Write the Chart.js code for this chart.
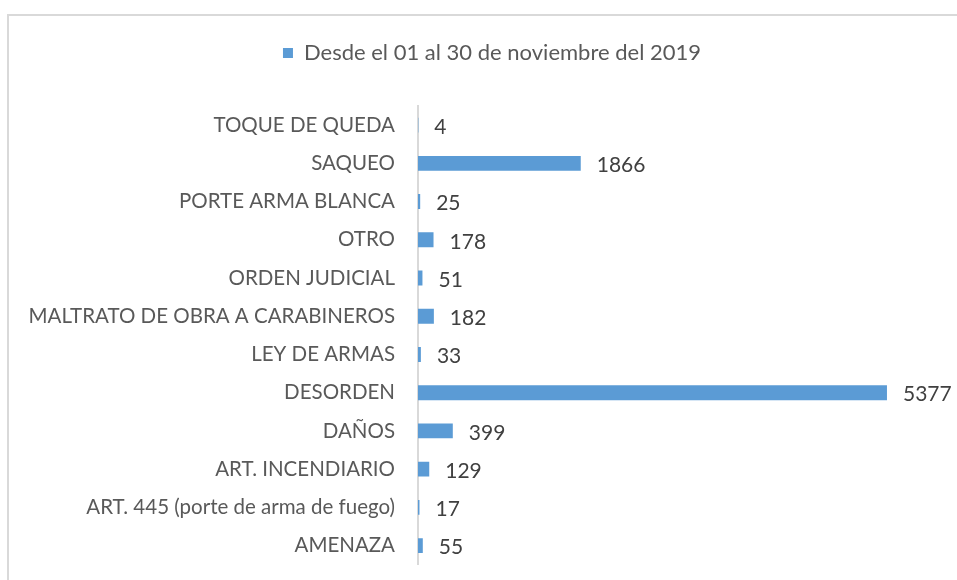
<!DOCTYPE html>
<html>
<head>
<meta charset="utf-8">
<script src="https://cdn.jsdelivr.net/npm/chart.js@4"></script>
<style>
  html, body { margin: 0; padding: 0; background: #fff; }
  #wrap { position: relative; width: 957px; height: 580px; overflow: hidden; }
  #frame { position: absolute; left: 7px; top: 14px; width: 960px; height: 600px;
           border-top: 2px solid #d9d9d9; border-left: 2px solid #d9d9d9; }
  #myChart { position: absolute; left: 0; top: 0; }
</style>
</head>
<body>
<div id="wrap">
  <div id="frame"></div>
  <canvas id="myChart" width="957" height="580"></canvas>
</div>
<script>
const categories = [
    'TOQUE DE QUEDA',
    'SAQUEO',
    'PORTE ARMA BLANCA',
    'OTRO',
    'ORDEN JUDICIAL',
    'MALTRATO DE OBRA A CARABINEROS',
    'LEY DE ARMAS',
    'DESORDEN',
    'DAÑOS',
    'ART. INCENDIARIO',
    'ART. 445 (porte de arma de fuego)',
    'AMENAZA'
];
const seriesName = 'Desde el 01 al 30 de noviembre del 2019';
const values = [4, 1866, 25, 178, 51, 182, 33, 5377, 399, 129, 17, 55];

const textColor = '#595959';
const fontFamily = 'Lato, "Open Sans", sans-serif';

// values written at the end of each bar
const endLabels = {
    id: 'endLabels',
    afterDatasetsDraw(chart) {
        const ctx = chart.ctx;
        const meta = chart.getDatasetMeta(0);
        ctx.save();
        ctx.font = '21px ' + fontFamily;
        ctx.fillStyle = '#404040';
        ctx.textAlign = 'left';
        ctx.textBaseline = 'middle';
        meta.data.forEach((bar, i) => {
            ctx.fillText(String(values[i]), bar.x + 16, bar.y + 2);
        });
        ctx.restore();
    }
};

let ctx = document.getElementById('myChart').getContext('2d');

let myChart = new Chart(ctx, {
    type: 'bar',
    data: {
        labels: categories,
        datasets: [{
            label: seriesName,
            data: values,
            backgroundColor: '#5B9BD5',
            borderWidth: 0,
            categoryPercentage: 1,
            barPercentage: 0.39,
        }]
    },
    options: {
        indexAxis: 'y',
        responsive: false,
        animation: false,
        layout: {
            padding: { top: 32, right: 0, bottom: 0, left: 27 }
        },
        scales: {
            x: {
                position: 'top',
                min: 0,
                max: 6180,
                ticks: { display: false },
                grid: { display: false },
                border: { display: false },
                afterFit: (s) => { s.height = 32; }
            },
            y: {
                grid: { display: false, drawTicks: true, tickLength: 20 },
                border: { display: true, color: '#d9d9d9', width: 2 },
                ticks: {
                    color: textColor,
                    padding: 3,
                    font: { family: fontFamily, size: 20.5 }
                },
                afterFit: (s) => { s.width = 391; }
            }
        },
        plugins: {
            tooltip: { enabled: false },
            legend: {
                position: 'top',
                labels: {
                    color: textColor,
                    boxWidth: 10,
                    boxHeight: 10,
                    padding: 10,
                    font: { family: fontFamily, size: 22 }
                }
            }
        }
    },
    plugins: [endLabels]
});
</script>
</body>
</html>
